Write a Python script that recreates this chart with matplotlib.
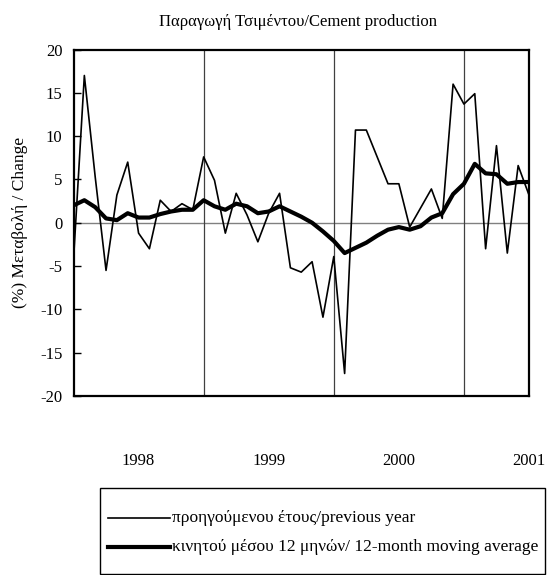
import matplotlib
matplotlib.use("Agg")
import matplotlib.pyplot as plt
from matplotlib.lines import Line2D
from matplotlib.patches import Rectangle

plt.rcParams['font.family'] = ['Liberation Serif', 'DejaVu Serif']
plt.rcParams['axes.unicode_minus'] = False

# monthly index (mid-1997 .. early 2001)
year_labels = ["1998", "1999", "2000", "2001"]
year_label_pos = [6, 18, 30, 42]
year_bounds = [12, 24, 36]

prev_year = [-4.3, 17.0, 5.3, -5.5, 3.2, 7.0, -1.2, -3.0, 2.6, 1.3,
             2.2, 1.5, 7.6, 4.9, -1.2, 3.4, 0.9, -2.2, 1.1, 3.4,
             -5.2, -5.7, -4.5, -10.9, -3.9, -17.4, 10.7, 10.7, 7.6, 4.5,
             4.5, -0.5, 1.7, 3.9, 0.5, 16.0, 13.7, 14.9, -3.0, 8.9,
             -3.5, 6.6, 3.2]
moving_avg = [2.0, 2.6, 1.8, 0.5, 0.3, 1.1, 0.6, 0.6, 1.0, 1.3,
              1.5, 1.5, 2.6, 1.9, 1.5, 2.2, 1.9, 1.1, 1.3, 1.9,
              1.3, 0.7, 0.0, -1.0, -2.1, -3.5, -2.9, -2.3, -1.5, -0.8,
              -0.5, -0.8, -0.4, 0.6, 1.1, 3.3, 4.5, 6.8, 5.7, 5.6,
              4.5, 4.7, 4.7]
x = list(range(len(prev_year)))

fig = plt.figure(figsize=(5.47, 5.75), dpi=100)
ax = fig.add_axes([73.5/547, 1-396/575, (529-73.5)/547, (396-49.5)/575])

ax.axhline(0, color='#808080', lw=1.0, zorder=1)
for b in year_bounds:
    ax.axvline(b, color='#404040', lw=0.9, zorder=1)

ax.plot(x, prev_year, color='black', lw=1.2, zorder=3)
ax.plot(x, moving_avg, color='black', lw=3.0, zorder=4, solid_joinstyle='round')

ax.set_xlim(0, 42)
ax.set_ylim(-20, 20)
ax.set_yticks(range(-20, 21, 5))
ax.tick_params(axis='y', direction='in', length=5, width=1, labelsize=12, pad=8)
ax.set_xticks(year_label_pos)
ax.set_xticklabels(year_labels)
ax.tick_params(axis='x', length=0, labelsize=12, pad=41)
for s in ax.spines.values():
    s.set_linewidth(1.6)

ax.set_ylabel("(%) Μεταβολή / Change", fontsize=12.5)
ax.yaxis.set_label_coords((28-73.5)/455.5, 0.5)
fig.text(298/547, 1-22/575, "Παραγωγή Τσιμέντου/Cement production",
         ha='center', va='center', fontsize=12)

# legend box
fig.patches.append(Rectangle((100/547, 1/575), 445/547, 86/575, transform=fig.transFigure,
                             fill=False, edgecolor='black', lw=1.0))
fig.lines.append(Line2D([108/547, 170/547], [1-518/575]*2, transform=fig.transFigure,
                        color='black', lw=1.2))
fig.lines.append(Line2D([108/547, 170/547], [1-547/575]*2, transform=fig.transFigure,
                        color='black', lw=3.0))
fig.text(172/547, 1-518/575, "προηγούμενου έτους/previous year", ha='left', va='center', fontsize=12.5)
fig.text(172/547, 1-547/575, "κινητού μέσου 12 μηνών/ 12-month moving average",
         ha='left', va='center', fontsize=12.5)

fig.savefig("out.png", dpi=100)
